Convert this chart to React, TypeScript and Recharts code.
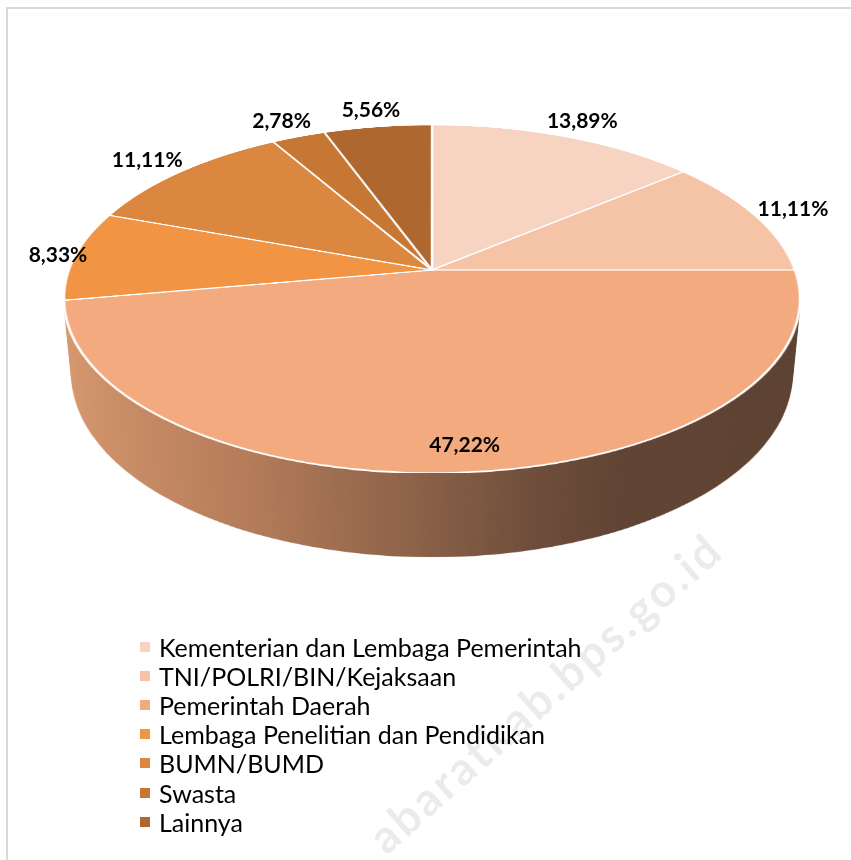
import React from "react";
import { PieChart, Pie, Cell, Legend } from "recharts";

const categories = [
  "Kementerian dan Lembaga Pemerintah",
  "TNI/POLRI/BIN/Kejaksaan",
  "Pemerintah Daerah",
  "Lembaga Penelitian dan Pendidikan",
  "BUMN/BUMD",
  "Swasta",
  "Lainnya",
];
const shares = [13.89, 11.11, 47.22, 8.33, 11.11, 2.78, 5.56];
const COLORS = ["#F7D4C1", "#F5C3A6", "#F3AA7F", "#F19444", "#DC873F", "#C77734", "#AE672F"];

const pieData = categories.map((name, i) => ({ name, value: shares[i] }));

// 3D look: flat pie tilted with a CSS perspective, labels projected back to screen
const W = 851;
const H = 860;
const R = 363;
const APEX_X = 432;
const APEX_Y = 270;
const TILT = 62.2;
const PERSP = 1926;
const DEPTH = 86;
const cosT = Math.cos((TILT * Math.PI) / 180);
const sinT = Math.sin((TILT * Math.PI) / 180);

function project(px: number, py: number) {
  const f = PERSP / (PERSP - py * sinT);
  return { x: APEX_X + px * f, y: APEX_Y + py * cosT * f };
}

const fmt = (v: number) => v.toFixed(2).replace(".", ",") + "%";

const renderLabel = (props: any) => {
  const { midAngle, percent, value } = props;
  const inside = percent > 0.3;
  const r = R * (inside ? 0.88 : 1.15);
  const rad = (midAngle * Math.PI) / 180;
  const p = project(r * Math.cos(rad), -r * Math.sin(rad));
  const hw = 34;
  const x = Math.max(24 + hw, Math.min(W - 24 - hw, p.x));
  return (
    <text
      x={x}
      y={p.y}
      textAnchor="middle"
      dominantBaseline="central"
      fontFamily="Lato, 'Open Sans', sans-serif"
      fontWeight={700}
      fontSize={21}
      fill="#000"
    >
      {fmt(value)}
    </text>
  );
};

const renderLegend = (props: any) => (
  <ul style={{ listStyle: "none", margin: 0, padding: 0 }}>
    {(props.payload || []).map((entry: any) => {
      const idx = categories.indexOf(entry.value);
      return (
        <li
          key={entry.value}
          style={{
            display: "flex",
            alignItems: "center",
            height: 29.2,
            fontFamily: "Lato, 'Open Sans', sans-serif",
            fontSize: 25,
            color: "#000",
            whiteSpace: "nowrap",
          }}
        >
          <span style={{ display: "inline-block", width: 10, height: 10, background: COLORS[idx], marginRight: 9 }} />
          {entry.value}
        </li>
      );
    })}
  </ul>
);

const sideLayers: number[] = [];
for (let k = DEPTH; k > 0; k -= 2) sideLayers.push(k);

export default function App() {
  return (
    <div style={{ position: "absolute", left: 0, top: 0, width: W, height: H, overflow: "hidden", background: "#fff" }}>
      <div
        style={{
          position: "absolute",
          left: 6,
          top: 7,
          width: 1000,
          height: 1000,
          borderTop: "2px solid #d9d9d9",
          borderLeft: "2px solid #d9d9d9",
        }}
      />
      <div
        style={{
          position: "absolute",
          left: APEX_X - R,
          top: APEX_Y - R,
          width: 2 * R,
          height: 2 * R,
          transformOrigin: "50% 50%",
          transform: `perspective(${PERSP}px) rotateX(${TILT}deg)`,
          transformStyle: "preserve-3d",
        }}
      >
        {sideLayers.map((k) => (
          <div
            key={k}
            style={{
              position: "absolute",
              left: 0,
              top: 0,
              width: 2 * R,
              height: 2 * R,
              borderRadius: "50%",
              background:
                "linear-gradient(to right, #D8996F 0%, #B57C5A 28%, #8C6248 48%, #6E4D3B 62%, #614434 72%, #5C4131 100%)",
              transform: `translateZ(${-k}px)`,
            }}
          />
        ))}
        <div style={{ position: "absolute", left: 0, top: 0, transform: "translateZ(0px)" }}>
          <PieChart width={2 * R} height={2 * R} margin={{ top: 0, right: 0, bottom: 0, left: 0 }}>
            <Pie
              data={pieData}
              dataKey="value"
              nameKey="name"
              cx={R}
              cy={R}
              outerRadius={R}
              startAngle={90}
              endAngle={-270}
              stroke="#ffffff"
              strokeWidth={2.5}
              isAnimationActive={false}
            >
              {pieData.map((_, i) => (
                <Cell key={i} fill={COLORS[i]} />
              ))}
            </Pie>
          </PieChart>
        </div>
      </div>
      <div
        style={{
          position: "absolute",
          left: 360,
          top: 826,
          transformOrigin: "0 0",
          transform: "rotate(-41.6deg)",
          fontFamily: "Lato, 'Open Sans', sans-serif",
          fontWeight: 700,
          fontSize: 46,
          letterSpacing: 3,
          lineHeight: 1,
          color: "rgba(0,0,0,0.08)",
          whiteSpace: "nowrap",
        }}
      >
        abaratkab.bps.go.id
      </div>
      <div style={{ position: "absolute", left: 0, top: 0 }}>
        <PieChart width={W} height={H} margin={{ top: 0, right: 0, bottom: 0, left: 0 }}>
          <Pie
            data={pieData}
            dataKey="value"
            nameKey="name"
            cx={APEX_X}
            cy={APEX_Y}
            outerRadius={R}
            startAngle={90}
            endAngle={-270}
            stroke="none"
            fillOpacity={0}
            label={renderLabel}
            labelLine={false}
            isAnimationActive={false}
          >
            {pieData.map((_, i) => (
              <Cell key={i} fill={COLORS[i]} />
            ))}
          </Pie>
          <Legend
            layout="vertical"
            align="center"
            verticalAlign="middle"
            itemSorter={(item: any) => categories.indexOf(item.value)}
            wrapperStyle={{ left: 140, top: 632, width: 500 }}
            content={renderLegend}
          />
        </PieChart>
      </div>
    </div>
  );
}
